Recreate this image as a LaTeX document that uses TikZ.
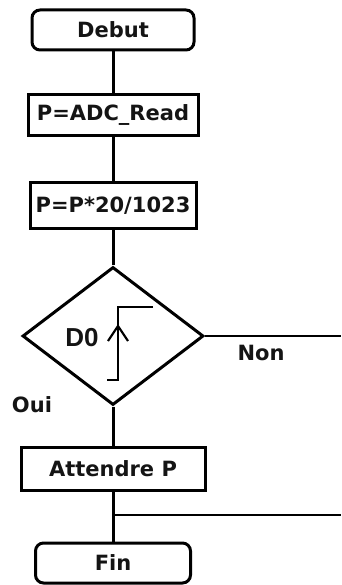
\documentclass[tikz,border=0pt]{standalone}
\usepackage{fontspec}
\setmainfont{DejaVu Sans}
\newfontfamily\signalfont{Liberation Sans}
\usetikzlibrary{positioning,arrows.meta,shapes.geometric}
\colorlet{inkcolor}{black!92}

\begin{document}
\begin{tikzpicture}[x=1pt, y=-1pt, node distance=40pt, line width=3pt,
    every node/.style={font=\bfseries\fontsize{21}{24}\selectfont, text=inkcolor}]
        \useasboundingbox (0,0) rectangle (341,585);
        \node[draw,rounded corners=8pt,minimum width=162pt,minimum height=40pt] (debut) at (113,30) {Debut};
        \node[draw,below=42pt of debut,minimum width=170pt,minimum height=41pt] (adc) {P=ADC\_Read};
        \node[draw,below=44pt of adc,minimum width=166pt,minimum height=45pt] (conv) {P=P*20/1023};
        \node[draw,diamond,below=36pt of conv,inner sep=0pt,minimum width=181pt,minimum height=138pt] (front) {};
        \node[draw,below=39pt of front,minimum width=184pt,minimum height=43pt] (att) {Attendre P};
        \node[draw,rounded corners=8pt,below=50pt of att,minimum width=155pt,minimum height=40pt] (fin) {Fin};
        % front montant sur D0
        \node[font=\signalfont\bfseries\fontsize{26}{28}\selectfont,xshift=-31pt,yshift=-2pt] (d0) at (front.center) {D0};
        \draw[line width=2.6pt] ([shift={(40,-29)}]front.center) -- ([shift={(5,-29)}]front.center)
            -- ([shift={(5,44)}]front.center) -- ([shift={(-6,44)}]front.center);
        \draw[line width=2.2pt] ([shift={(-5,5)}]front.center) -- ([shift={(5,-10)}]front.center) -- ([shift={(15,5)}]front.center);
        \node (non) at (261,353) {Non};
        \node (oui) at (32,405) {Oui};
        \coordinate (sortie) at (341,336);
        \coordinate (retour) at (341,515);
        \draw (debut)--(adc);
        \draw (adc)--(conv);
        \draw (conv)--(front);
        \draw (front)--(att);
        \draw (att)--(fin);
        \draw[line width=2.5pt] (front.east)--(sortie);
        \draw[line width=2.5pt] (att.south |- retour)--(retour);
      \end{tikzpicture}
\end{document}
